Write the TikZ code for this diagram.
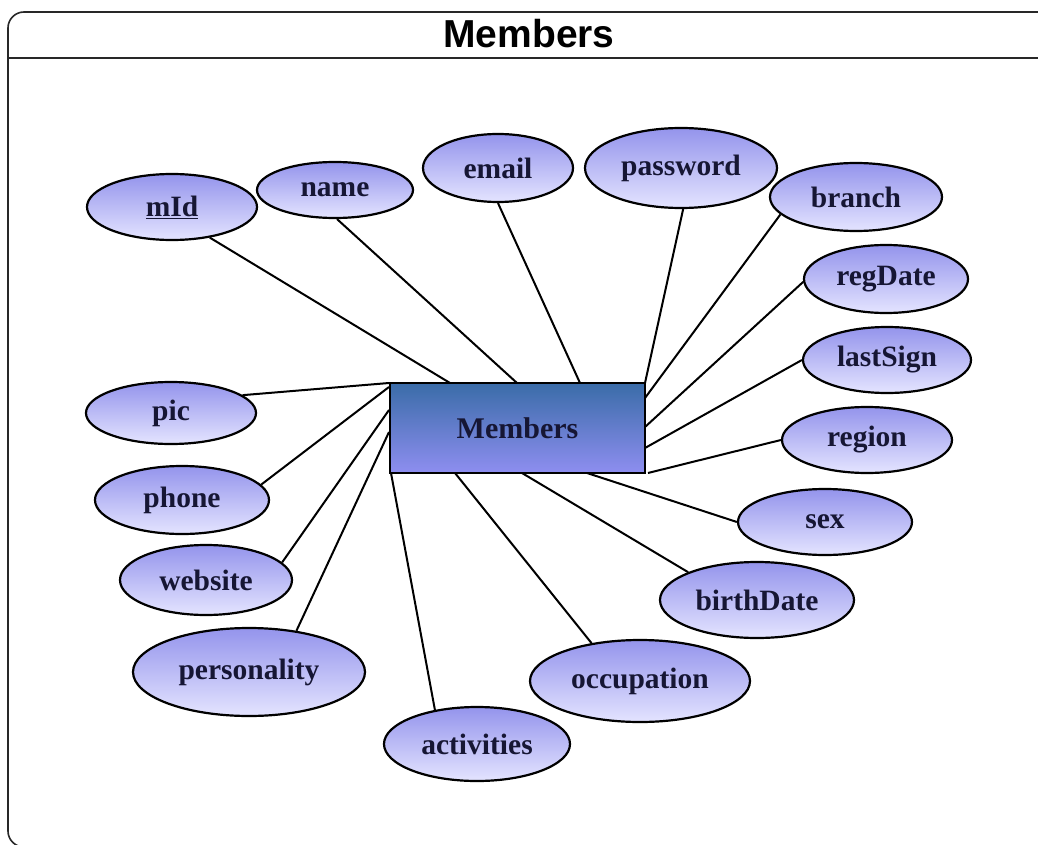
\documentclass[tikz,border=0pt]{standalone}
\usepackage{fontspec}
\setmainfont{Liberation Serif}
\newfontfamily\titlefont{Liberation Sans}
\usetikzlibrary{shapes.geometric}

\definecolor{txt}{RGB}{22,22,52}
\definecolor{elltop}{RGB}{148,148,236}
\definecolor{ellbot}{RGB}{228,228,255}
\definecolor{recttop}{RGB}{58,108,168}
\definecolor{rectbot}{RGB}{142,142,240}
\definecolor{framec}{RGB}{40,40,40}

\begin{document}
\begin{tikzpicture}[x=1pt,y=-1pt,
  attr/.style={ellipse, draw=black, line width=2.2pt, top color=elltop, bottom color=ellbot,
    inner sep=0pt, font=\fontsize{29.5}{32}\selectfont\bfseries, text=txt},
  entity/.style={rectangle, draw=black, line width=2.4pt, top color=recttop, bottom color=rectbot,
    minimum width=255pt, minimum height=90pt, inner sep=0pt,
    font=\fontsize{30}{32}\selectfont\bfseries, text=txt},
  link/.style={line width=2pt, draw=black},
  framebox/.style={line width=1.6pt, draw=framec, rounded corners=16pt}]

\useasboundingbox (0,0) rectangle (1038,845);
\fill[white] (0,0) rectangle (1038,845);

% frame and header
\draw[framebox] (8,12) rectangle (1070,847);
\draw[line width=1.6pt, draw=framec] (8,58) -- (1070,58);
\node[font=\titlefont\fontsize{39}{44}\selectfont\bfseries, text=black] (title) at (529,34) {Members};

% entity
\node[entity] (M) at (517.5,428) {Members};

% attributes
\node[attr, minimum width=170pt, minimum height=66pt] (mid) at (172,207) {\underline{mId}};
\node[attr, minimum width=156pt, minimum height=56pt] (name) at (335,190) {name};
\node[attr, minimum width=150pt, minimum height=68pt] (email) at (498,168) {email};
\node[attr, minimum width=192pt, minimum height=80pt] (password) at (681,168) {password};
\node[attr, minimum width=172pt, minimum height=68pt] (branch) at (856,197) {branch};
\node[attr, minimum width=164pt, minimum height=68pt] (regdate) at (886,279) {regDate};
\node[attr, minimum width=168pt, minimum height=66pt] (lastsign) at (887,360) {lastSign};
\node[attr, minimum width=170pt, minimum height=66pt] (region) at (867,440) {region};
\node[attr, minimum width=174pt, minimum height=66pt] (sex) at (825,522) {sex};
\node[attr, minimum width=194pt, minimum height=76pt] (birthdate) at (757,600) {birthDate};
\node[attr, minimum width=220pt, minimum height=82pt] (occupation) at (640,681) {occupation};
\node[attr, minimum width=186pt, minimum height=74pt] (activities) at (477,744) {activities};
\node[attr, minimum width=232pt, minimum height=88pt] (personality) at (249,672) {personality};
\node[attr, minimum width=172pt, minimum height=70pt] (website) at (206,580) {website};
\node[attr, minimum width=174pt, minimum height=68pt] (phone) at (182,500) {phone};
\node[attr, minimum width=170pt, minimum height=62pt] (pic) at (171,413) {pic};

% attachment points on the entity border
\coordinate (aMid) at (450,383);
\coordinate (aName) at (517,383);
\coordinate (aEmail) at (580,383);
\coordinate (aPassword) at (645,383);
\coordinate (aBranch) at (645,398);
\coordinate (aRegdate) at (645,427);
\coordinate (aLastsign) at (645,448);
\coordinate (aRegion) at (648,473);
\coordinate (aSex) at (587,473);
\coordinate (aBirthdate) at (522,473);
\coordinate (aOccupation) at (455,473);
\coordinate (aActivities) at (391,473);
\coordinate (aPersonality) at (389,432);
\coordinate (aWebsite) at (389,410);
\coordinate (aPhone) at (389,387);
\coordinate (aPic) at (389,383);

% connectors
\draw[link] (mid.-39) -- (aMid);
\draw[link] (name.-86) -- (aName);
\draw[link] (email.south) -- (aEmail);
\draw[link] (password.-87) -- (aPassword);
\draw[link] (branch.-167) -- (aBranch);
\draw[link] (regdate.-178) -- (aRegdate);
\draw[link] (lastsign.west) -- (aLastsign);
\draw[link] (region.west) -- (aRegion);
\draw[link] (sex.west) -- (aSex);
\draw[link] (birthdate.158) -- (aBirthdate);
\draw[link] (occupation.142) -- (aOccupation);
\draw[link] (activities.141) -- (aActivities);
\draw[link] (personality.41) -- (aPersonality);
\draw[link] (website.13) -- (aWebsite);
\draw[link] (phone.11) -- (aPhone);
\draw[link] (pic.14) -- (aPic);
\end{tikzpicture}
\end{document}
